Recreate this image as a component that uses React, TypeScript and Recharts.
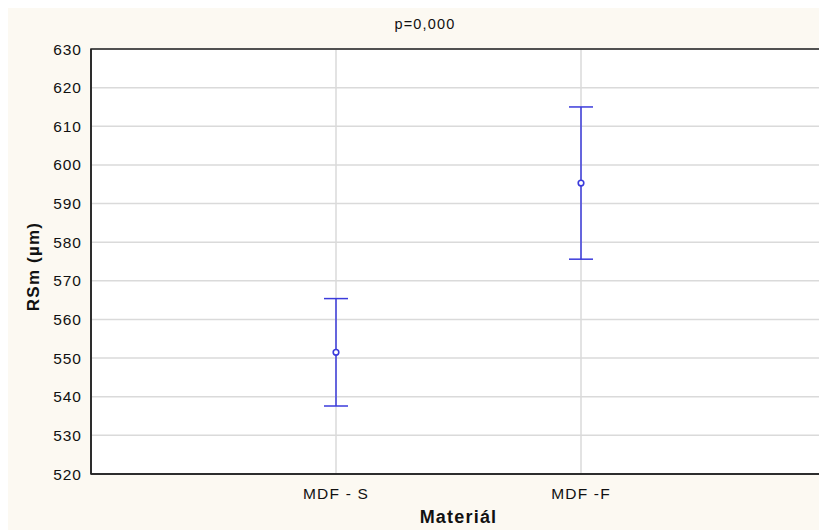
import { ScatterChart, Scatter, XAxis, YAxis, CartesianGrid, ErrorBar, ReferenceArea } from 'recharts'

const categories = ['MDF - S', 'MDF -F']
const positions = [1, 2]
const means = [551.5, 595.3]
const lower = [537.6, 575.6]
const upper = [565.4, 615.0]
const yTicks = [520, 530, 540, 550, 560, 570, 580, 590, 600, 610, 620, 630]

const BLUE = '#3b3bdb'
const FONT = '"Liberation Sans", Arial, sans-serif'

if (typeof document !== 'undefined') document.body.style.overflow = 'hidden'

const data = categories.map((name, i) => ({
  name,
  x: positions[i],
  mean: means[i],
  err: [means[i] - lower[i], upper[i] - means[i]],
}))

const Marker = (props: any) => (
  <circle cx={props.cx} cy={props.cy} r={2.8} fill="#fff" stroke={BLUE} strokeWidth={1.6} />
)

export default function App() {
  return (
    <div style={{ position: 'relative', width: 819, height: 522, background: '#fcf9f2', fontFamily: FONT }}>
      <div style={{ position: 'absolute', left: 0, width: 834, top: 8, textAlign: 'center', fontSize: 14.5, letterSpacing: 1.2, color: '#111' }}>
        p=0,000
      </div>
      <ScatterChart width={819} height={522} margin={{ top: 41, right: 1, left: 0, bottom: 0 }}>
        <CartesianGrid fill="#fff" stroke="#dadada" strokeWidth={1.5} />
        <XAxis
          dataKey="x"
          type="number"
          domain={[0, 3]}
          ticks={positions}
          tickFormatter={(v) => categories[positions.indexOf(v)] ?? ''}
          height={56}
          axisLine={{ stroke: '#222', strokeWidth: 1.5 }}
          tickLine={false}
          tickMargin={8}
          tick={{ fontSize: 15.5, fill: '#111', fontFamily: FONT, letterSpacing: 1.2 }}
          label={{ value: 'Materiál', position: 'insideBottom', offset: 7, fontSize: 18, fontWeight: 'bold', fill: '#111', fontFamily: FONT, letterSpacing: 1.2 }}
        />
        <YAxis
          dataKey="mean"
          type="number"
          domain={[520, 630]}
          ticks={yTicks}
          width={83}
          axisLine={{ stroke: '#222', strokeWidth: 1.5 }}
          tickLine={false}
          tickMargin={3}
          tick={{ fontSize: 15.5, fill: '#111', fontFamily: FONT, letterSpacing: 1 }}
          label={{ value: 'RSm (µm)', angle: -90, position: 'center', dx: -17, dy: 5, fontSize: 17, fontWeight: 'bold', fill: '#111', fontFamily: FONT, letterSpacing: 1.2 }}
        />
        <ReferenceArea x1={0} x2={3} y1={520} y2={630} fill="none" stroke="#222" strokeWidth={1.5} />
        <Scatter data={data} dataKey="mean" shape={<Marker />} isAnimationActive={false}>
          <ErrorBar dataKey="err" direction="y" width={12} stroke={BLUE} strokeWidth={1.5} isAnimationActive={false} />
        </Scatter>
      </ScatterChart>
    </div>
  )
}
